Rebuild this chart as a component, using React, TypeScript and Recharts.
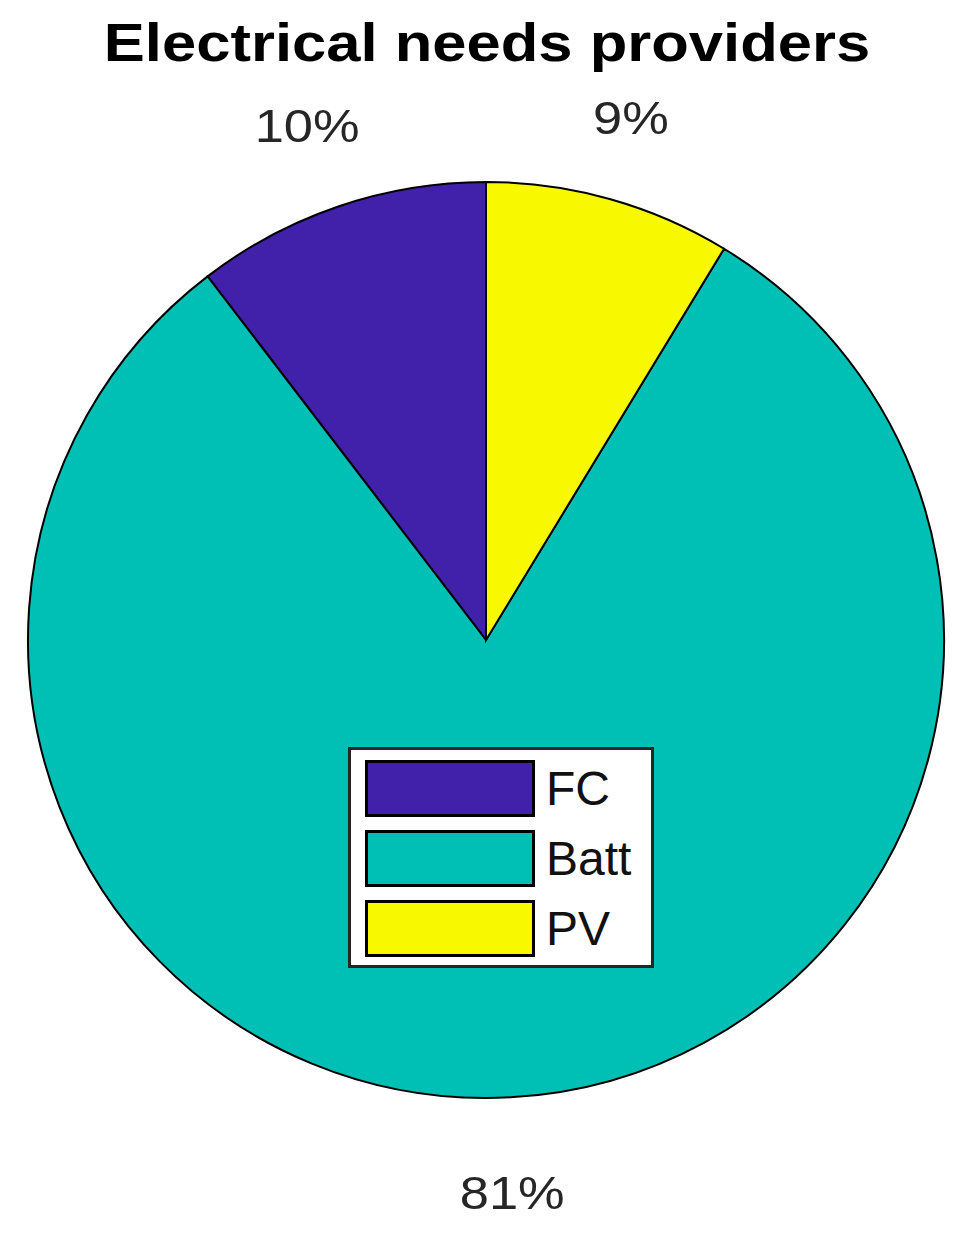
import { PieChart, Pie, Cell, Legend } from "recharts"

const sources = ["FC", "Batt", "PV"]
const shares = [10.4, 80.9, 8.7]
const pctLabels = ["10%", "81%", "9%"]
const colors = ["#4120AA", "#00BFB5", "#F8F800"]

const data = sources.map((name, i) => ({ name, value: shares[i], label: pctLabels[i] }))

const FONT = "'Liberation Sans', Arial, Helvetica, sans-serif"
const RADIAN = Math.PI / 180

function renderLabel(props: any) {
  const { cx, cy, midAngle, outerRadius, index } = props
  const r = outerRadius + 90
  const x = cx + r * Math.cos(-midAngle * RADIAN) - 3
  const y = cy + r * Math.sin(-midAngle * RADIAN) + 5
  return (
    <text
      transform={`translate(${x},${y}) scale(1.14,1)`}
      textAnchor="middle"
      dominantBaseline="central"
      fontSize={46}
      fontFamily={FONT}
      fill="#262626"
    >
      {pctLabels[index]}
    </text>
  )
}

function renderLegend() {
  return (
    <div
      style={{
        width: 300,
        height: 215,
        border: "3px solid #262626",
        background: "#fff",
        boxSizing: "content-box",
        position: "relative",
        fontFamily: FONT,
      }}
    >
      {sources.map((s, i) => (
        <div key={s} style={{ position: "absolute", left: 14, top: 10 + i * 70, display: "flex", alignItems: "center" }}>
          <div style={{ width: 164, height: 51, background: colors[i], border: "3px solid #000" }} />
          <span style={{ marginLeft: 11, fontSize: 48, color: "#111", lineHeight: "57px" }}>{s}</span>
        </div>
      ))}
    </div>
  )
}

export default function App() {
  return (
    <div style={{ position: "relative", width: 953, height: 1220, background: "#fff" }}>
      <div
        style={{
          position: "absolute",
          left: 0,
          width: 958,
          top: 4,
          textAlign: "center",
          fontFamily: FONT,
          fontWeight: "bold",
          fontSize: 54,
          color: "#000",
          lineHeight: "60px",
          transform: "scaleX(1.14)",
        }}
      >
        Electrical needs providers
      </div>
      <PieChart width={953} height={1220}>
        <Pie
          data={data}
          dataKey="value"
          nameKey="name"
          cx={473}
          cy={627}
          outerRadius={458}
          startAngle={90}
          endAngle={450}
          stroke="#000"
          strokeWidth={2}
          label={renderLabel}
          labelLine={false}
          isAnimationActive={false}
        >
          {data.map((d, i) => (
            <Cell key={d.name} fill={colors[i]} />
          ))}
        </Pie>
        <Legend
          content={renderLegend}
          wrapperStyle={{ position: "absolute", left: 340, top: 739, width: 306, height: 221 }}
        />
      </PieChart>
    </div>
  )
}
